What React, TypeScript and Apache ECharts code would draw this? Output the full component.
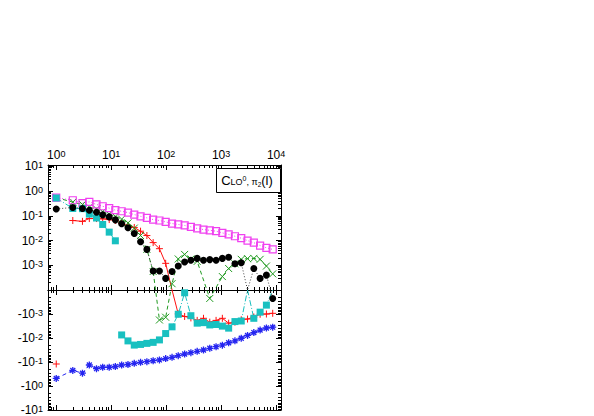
import React, { useEffect, useRef } from 'react';
import * as echarts from 'echarts';

// multipole l (bin centres)
const L = [1, 2, 3, 4, 5.4, 7.0, 9.2, 11.9, 15.5, 20.2, 26.3, 34.2, 44.6, 58, 75.5, 98, 128, 166, 217, 282, 367, 478, 622, 810, 1054, 1372, 1786, 2326, 3027, 3940, 5129, 6675, 8690];

// series values (null = no point)
const RED = [-0.099, 0.065, 0.060, 0.078, 0.078, 0.076, 0.071, 0.065, 0.049, 0.041, 0.034, 0.024, 0.016, 0.0083, 0.0047, 0.0012, 0, -9.3e-4, -1.18e-3, -1.35e-3, -1.7e-3, -1.4e-3, -2.0e-3, -1.7e-3, -1.4e-3, -2.2e-3, -2.0e-3, -1.6e-3, -1.5e-3, -1.24e-3, -9.6e-4, -9.4e-4, -8.8e-4];
const RED_BREAKS = [0];
const GREEN = [0.55, 0.36, 0.29, 0.225, 0.19, 0.15, 0.118, 0.096, 0.074, 0.052, 0.032, 0.016, 0.0044, 5.6e-4, -1.64e-3, -1.27e-3, 1.8e-4, 1.8e-3, 2.75e-3, 1.8e-3, 1.44e-3, null, -2.2e-4, null, 3.5e-4, 7.4e-4, 1.15e-3, 1.74e-3, 1.86e-3, 1.9e-3, 1.74e-3, 9.3e-4, 4.5e-4];
const BLUE = [-0.38, -0.18, -0.233, -0.109, -0.153, -0.134, -0.134, -0.125, -0.109, -0.104, -0.093, -0.0845, -0.080, -0.073, -0.068, -0.060, -0.053, -0.0457, -0.039, -0.0345, -0.0303, -0.0269, -0.0229, -0.0198, -0.0172, -0.0137, -0.0114, -0.009, -0.0069, -0.0053, -0.0042, -0.00345, -0.0032];
const MAGENTA = [0.55, 0.43, 0.33, 0.37, 0.29, 0.245, 0.206, 0.17, 0.154, 0.136, 0.113, 0.096, 0.083, 0.071, 0.065, 0.057, 0.049, 0.045, 0.041, 0.036, 0.031, 0.028, 0.026, 0.024, 0.0205, 0.0177, 0.015, 0.0125, 0.010, 0.0082, 0.0063, 0.0051, 0.0044];
const CYAN = [0.53, 0.2, 0.196, 0.118, 0.082, 0.045, 0.022, 0.0098, -0.0066, -0.0115, -0.017, -0.016, -0.0145, -0.0132, -0.0105, -0.0058, -0.0031, -9.6e-4, -1.3e-4, -1.1e-3, -2.2e-3, -2.1e-3, -2.6e-3, -2.5e-3, -2.9e-3, -3.5e-3, -1.9e-3, -1.8e-3, 0, -1.4e-3, -7.9e-4, -4.1e-4, 0];
const CYAN_BREAKS = [7];
const BLACK = [0.19, 0.22, 0.20, 0.17, 0.14, 0.11, 0.091, 0.069, 0.048, 0.033, 0.0195, 0.0089, 0.0044, 5.9e-4, 5.9e-4, 2.95e-4, 5.6e-4, 9.3e-4, 1.35e-3, 1.6e-3, 1.9e-3, 1.6e-3, 1.7e-3, 1.6e-3, 1.9e-3, 2.1e-3, 1.15e-3, 1.26e-3, 0, 7.4e-4, 2.95e-4, 4.0e-4, -2.2e-4];

// tick label exponents
const X_EXP = [0, 1, 2, 3, 4];
const UPPER_Y_EXP = [1, 0, -1, -2, -3];
const LOWER_Y_EXP = [-3, -2, -1, 0, 1];

const X_MIN = -0.15;
const X_MAX = 4.09;
const T_TOP = 5.06;
const T_BOTTOM = -5;
const FONT = '"Liberation Sans", Arial, Helvetica, sans-serif';

const toT = (v: number) =>
  v === 0 ? 0 : Math.sign(v) * Math.max(0, Math.log10(Math.abs(v)) + 4);

function build(values: (number | null)[], breaks: number[] = []) {
  const out: any[] = [];
  values.forEach((v, i) => {
    if (v === null) return;
    const x = Math.log10(L[i]);
    const t = toT(v);
    out.push(v === 0 ? { value: [x, t], symbol: 'none' } : [x, t]);
    if (breaks.includes(i) && i + 1 < L.length) {
      out.push([(x + Math.log10(L[i + 1])) / 2, '-']);
    }
  });
  return out;
}

const xMinor: number[] = [];
for (let n = -1; n <= 4; n++) for (let k = 2; k <= 9; k++) {
  const v = n + Math.log10(k);
  if (v > X_MIN && v < X_MAX) xMinor.push(v);
}
const upMajor = UPPER_Y_EXP.map((e) => e + 4);
const loMajor = LOWER_Y_EXP.map((e) => -(e + 4));
const upMinor: number[] = [];
const loMinor: number[] = [];
for (let n = 0; n <= 4; n++) for (let k = 2; k <= 9; k++) {
  const t = n + Math.log10(k);
  if (t < T_TOP) upMinor.push(t);
  if (-t > T_BOTTOM) loMinor.push(-t);
}

const rich = {
  b: { fontSize: 12, fontFamily: FONT, color: '#000', lineHeight: 12, padding: [3, 0, 0, 0], verticalAlign: 'bottom' },
  s: { fontSize: 9, fontFamily: FONT, color: '#000', lineHeight: 9, verticalAlign: 'top' },
};

function ax(gridIndex: number, position: string, min: number, max: number, ticks: number[], len: number, line: boolean, label?: any) {
  return {
    type: 'value', gridIndex, position, min, max,
    axisLine: { show: line, onZero: false, lineStyle: { color: '#000', width: 1 } },
    axisTick: { show: true, inside: true, length: len, customValues: ticks, lineStyle: { color: '#000', width: 1 } },
    axisLabel: label ? label : { show: false },
    splitLine: { show: false },
    minorTick: { show: false },
    minorSplitLine: { show: false },
  };
}

const PLUS = 'path://M0,5L10,5M5,0L5,10';
const CROSS = 'path://M0,0L10,10M10,0L0,10';
const STAR = 'path://M0,5L10,5M5,0L5,10M1.5,1.5L8.5,8.5M8.5,1.5L1.5,8.5';
const SQUARE = 'path://M0,0L10,0L10,10L0,10Z';

function line(name: string, data: any[], color: string, symbol: string, type: any, size: number, bw: number, lineColor?: string, fill?: string) {
  return {
    type: 'line', name, xAxisIndex: 8, yAxisIndex: 8, data, symbol, symbolSize: size,
    showSymbol: true, connectNulls: false, clip: true,
    lineStyle: { color: lineColor || color, width: 1, type },
    itemStyle: { color: fill || color, borderColor: color, borderWidth: bw },
    emphasis: { disabled: true },
  };
}

export default function App() {
  const ref = useRef<HTMLDivElement>(null);
  useEffect(() => {
    if (!ref.current) return;
    const chart = echarts.init(ref.current, null, { renderer: 'svg' });
    const xLabel = {
      show: true, customValues: X_EXP, margin: 4, color: '#000', fontFamily: FONT,
      formatter: (v: number) => `{b|10}{s|${Math.round(v)}}`, rich,
    };
    const upLabel = {
      show: true, customValues: upMajor, margin: 5, color: '#000', fontFamily: FONT,
      formatter: (v: number) => `{b|10}{s|${Math.round(v) - 4}}`, rich,
    };
    const loLabel = {
      show: true, customValues: loMajor, margin: 5, color: '#000', fontFamily: FONT,
      formatter: (v: number) => `{b|-10}{s|${Math.round(-v) - 4}}`, rich,
    };
    const option: any = {
      animation: false,
      backgroundColor: '#fff',
      grid: [
        { left: 48, top: 165, width: 233, height: 125 },
        { left: 48, top: 290, width: 233, height: 123.5 },
        { left: 48, top: 165, width: 233, height: 248.5 },
      ],
      xAxis: [
        ax(0, 'top', X_MIN, X_MAX, X_EXP, 5, true, xLabel),
        ax(0, 'top', X_MIN, X_MAX, xMinor, 3, false),
        ax(0, 'bottom', X_MIN, X_MAX, X_EXP, 5, true),
        ax(0, 'bottom', X_MIN, X_MAX, xMinor, 3, false),
        ax(1, 'top', X_MIN, X_MAX, X_EXP, 5, true),
        ax(1, 'top', X_MIN, X_MAX, xMinor, 3, false),
        ax(1, 'bottom', X_MIN, X_MAX, X_EXP, 5, true),
        ax(1, 'bottom', X_MIN, X_MAX, xMinor, 3, false),
        { type: 'value', gridIndex: 2, min: X_MIN, max: X_MAX, show: false, splitLine: { show: false } },
      ],
      yAxis: [
        ax(0, 'left', 0, T_TOP, upMajor, 5, true, upLabel),
        ax(0, 'left', 0, T_TOP, upMinor, 3, false),
        ax(0, 'right', 0, T_TOP, upMajor, 5, true),
        ax(0, 'right', 0, T_TOP, upMinor, 3, false),
        ax(1, 'left', T_BOTTOM, 0, loMajor, 5, true, loLabel),
        ax(1, 'left', T_BOTTOM, 0, loMinor, 3, false),
        ax(1, 'right', T_BOTTOM, 0, loMajor, 5, true),
        ax(1, 'right', T_BOTTOM, 0, loMinor, 3, false),
        { type: 'value', gridIndex: 2, min: T_BOTTOM, max: T_TOP, show: false, splitLine: { show: false } },
      ],
      series: [
        line('red', build(RED, RED_BREAKS), '#ff1010', PLUS, 'solid', 7, 1),
        line('green', build(GREEN), '#1f9a1f', CROSS, [4, 3], 7, 1),
        line('blue', build(BLUE), '#2424f0', STAR, [4, 3], 7, 1.3),
        line('magenta', build(MAGENTA), '#f040f0', SQUARE, [1, 2], 7, 1.2, undefined, 'rgba(255,255,255,0)'),
        line('cyan', build(CYAN, CYAN_BREAKS), '#18c0c0', 'rect', [6, 2, 1, 2], 7, 0),
        line('black', build(BLACK), '#000000', 'circle', [1, 2], 7, 0, '#444'),
      ],
      graphic: [
        {
          type: 'rect', z: 100,
          shape: { x: 216.5, y: 168.5, width: 64, height: 24 },
          style: { fill: '#fff', stroke: '#000', lineWidth: 1 },
        },
        {
          type: 'text', z: 101, x: 247, y: 181,
          style: {
            text: '{c|C}{sub|LO}{sup|0}{sub|, π}{sub2|2}{c|(l)}',
            align: 'center', verticalAlign: 'middle', fill: '#000',
            rich: {
              c: { fontSize: 13, fontFamily: FONT, lineHeight: 14, padding: [0, 0, 3, 0], verticalAlign: 'top', fill: '#000' },
              sub: { fontSize: 9, fontFamily: FONT, lineHeight: 10, padding: [0, 0, 2, 0], verticalAlign: 'bottom', fill: '#000' },
              sup: { fontSize: 7, fontFamily: FONT, lineHeight: 8, padding: [1, 0, 0, 0], verticalAlign: 'top', fill: '#000' },
              sub2: { fontSize: 6.5, fontFamily: FONT, lineHeight: 7, verticalAlign: 'bottom', fill: '#000' },
            },
          },
        },
      ],
    };
    chart.setOption(option);
    return () => chart.dispose();
  }, []);
  return (
    <div
      ref={ref}
      style={{ position: 'absolute', left: 0, top: 0, width: 594, height: 416, background: '#fff' }}
    />
  );
}
